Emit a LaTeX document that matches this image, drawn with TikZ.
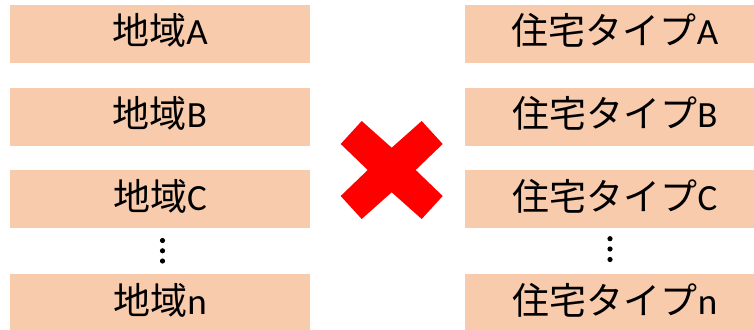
\documentclass[tikz,border=0pt]{standalone}
\usepackage{fontspec}
\setmainfont{Carlito}
\newfontfamily\cjk{Noto Sans CJK JP}
\definecolor{peach}{HTML}{F8CBAD}
\definecolor{xred}{HTML}{FF0000}
\begin{document}
\begin{tikzpicture}[x=1pt,y=-1pt,
  box/.style={fill=peach,draw=none,minimum width=300pt,minimum height=58pt,inner sep=0pt},
  boxtext/.style={anchor=base,inner sep=0pt,font=\fontsize{37}{40}\selectfont},
  dotmark/.style={fill=black,draw=none,circle,inner sep=0pt,minimum size=5.2pt}]
\useasboundingbox (0,0) rectangle (754,329);
\clip (0,0) rectangle (754,329);
% left column
\node[box] (la) at (160,34) {};
\node[box] (lb) at (160,116.5) {};
\node[box] (lc) at (160,199) {};
\node[box] (ln) at (160,303) {};
\node[boxtext] (lat) at ([yshift=-11pt]la.center) {{\cjk 地域}A};
\node[boxtext] (lbt) at ([yshift=-11pt]lb.center) {{\cjk 地域}B};
\node[boxtext] (lct) at ([yshift=-11pt]lc.center) {{\cjk 地域}C};
\node[boxtext] (lnt) at ([yshift=-11pt]ln.center) {{\cjk 地域}n};
\node[dotmark] (ld1) at (162.5,240.5) {};
\node[dotmark] (ld2) at (162.5,250.8) {};
\node[dotmark] (ld3) at (162.5,261) {};
% right column
\node[box] (ra) at (615,34) {};
\node[box] (rb) at (615,116.5) {};
\node[box] (rc) at (615,199) {};
\node[box] (rn) at (615,303) {};
\node[boxtext] (rat) at ([yshift=-11pt]ra.center) {{\cjk 住宅タイプ}A};
\node[boxtext] (rbt) at ([yshift=-11pt]rb.center) {{\cjk 住宅タイプ}B};
\node[boxtext] (rct) at ([yshift=-11pt]rc.center) {{\cjk 住宅タイプ}C};
\node[boxtext] (rnt) at ([yshift=-11pt]rn.center) {{\cjk 住宅タイプ}n};
\node[dotmark] (rd1) at (610,238.7) {};
\node[dotmark] (rd2) at (610,249) {};
\node[dotmark] (rd3) at (610,259.5) {};
% red cross
\fill[xred] (340.7,144) -- (361.7,121) -- (391.7,147.7) -- (421.7,121) -- (442.7,144)
  -- (415.7,170) -- (442.7,196) -- (421.7,219) -- (391.7,192.3) -- (361.7,219)
  -- (340.7,196) -- (367.7,170) -- cycle;
\end{tikzpicture}
\end{document}
